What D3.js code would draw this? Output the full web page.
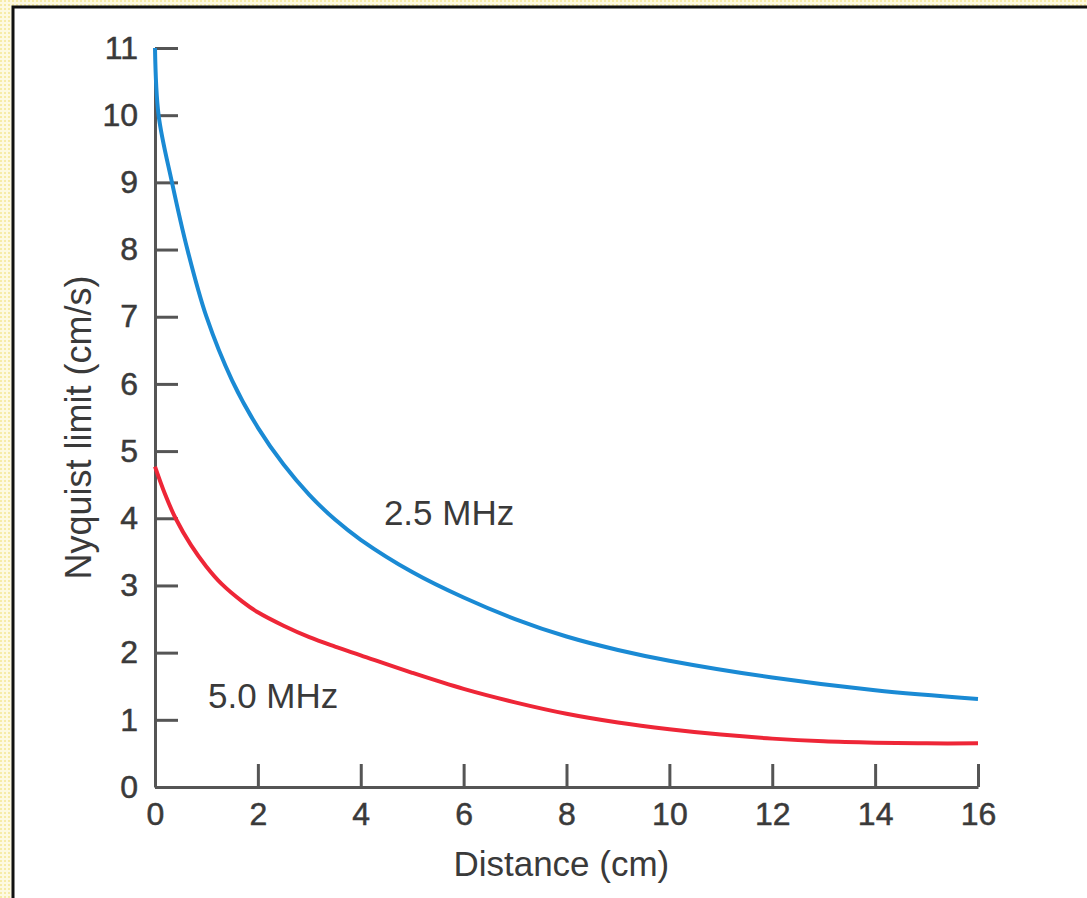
<!DOCTYPE html>
<html>
<head>
<meta charset="utf-8">
<script src="https://cdn.jsdelivr.net/npm/d3@7"></script>
<style>
  html, body { margin: 0; padding: 0; background: #fff; }
  svg { display: block; }
</style>
</head>
<body>
<svg id="root"></svg>
<script>
// values
const blueDistance = [0, 0.07, 0.33, 0.63, 1.0, 1.5, 2.0, 2.5, 3.0, 3.5, 4.0, 5.0, 6.0, 7.0, 8.0, 9.0, 10.0, 12.0, 14.0, 16.0];
const blueNyquist = [11, 10, 9, 8, 7, 6.05, 5.35, 4.8, 4.35, 3.98, 3.68, 3.2, 2.82, 2.5, 2.24, 2.04, 1.88, 1.63, 1.44, 1.31];
const redDistance = [0, 0.2, 0.4, 0.7, 1.0, 1.3, 1.7, 2.0, 2.5, 3.0, 3.5, 4.0, 5.0, 6.0, 7.0, 8.0, 9.0, 10.0, 11.0, 12.0, 13.0, 14.0, 15.0, 16.0];
const redNyquist = [4.77, 4.35, 4.0, 3.6, 3.28, 3.02, 2.76, 2.6, 2.4, 2.23, 2.09, 1.96, 1.7, 1.46, 1.26, 1.09, 0.96, 0.86, 0.78, 0.72, 0.68, 0.66, 0.65, 0.65];
const xTicks = [0, 2, 4, 6, 8, 10, 12, 14, 16];
const yTicks = [0, 1, 2, 3, 4, 5, 6, 7, 8, 9, 10, 11];
const seriesLabels = ['2.5 MHz', '5.0 MHz'];

const width = 1087;
const height = 898;
const font = '"Liberation Sans", Arial, sans-serif';
const ink = '#3a3a3a';

const svg = d3.select('#root').attr('width', width).attr('height', height);

// dotted pale-yellow frame
const pat = svg.append('defs').append('pattern')
  .attr('id', 'dots').attr('width', 4).attr('height', 4)
  .attr('patternUnits', 'userSpaceOnUse');
pat.append('rect').attr('width', 4).attr('height', 4).attr('fill', '#fdf9e2');
pat.append('rect').attr('width', 2).attr('height', 2).attr('fill', '#f6eba8');
svg.append('rect').attr('width', width).attr('height', height).attr('fill', 'url(#dots)');
svg.append('rect')
  .attr('x', 13).attr('y', 7)
  .attr('width', width).attr('height', height)
  .attr('fill', '#fff')
  .attr('stroke', '#111').attr('stroke-width', 3);

const x = d3.scaleLinear().domain([0, 16]).range([155, 978]);
const y = d3.scaleLinear().domain([0, 11]).range([787, 48]);

const styleAxis = g => {
  g.select('.domain').attr('stroke', '#555').attr('stroke-width', 3);
  g.selectAll('.tick line').attr('stroke', '#555').attr('stroke-width', 3);
  g.selectAll('.tick text')
    .attr('font-size', 32)
    .attr('font-family', font)
    .attr('fill', ink)
    .attr('stroke', ink)
    .attr('stroke-width', 0.5);
};

svg.append('g')
  .attr('transform', `translate(0,${y(0)})`)
  .call(d3.axisBottom(x).tickValues(xTicks).tickSize(-23).tickSizeOuter(0).tickPadding(15))
  .call(styleAxis);

svg.append('g')
  .attr('transform', `translate(${x(0)},0)`)
  .call(d3.axisLeft(y).tickValues(yTicks).tickSize(-23).tickSizeOuter(0).tickPadding(17))
  .call(styleAxis);

const line = d3.line()
  .x(d => x(d[0]))
  .y(d => y(d[1]))
  .curve(d3.curveCatmullRom.alpha(0.5));

svg.append('path')
  .datum(d3.zip(blueDistance, blueNyquist))
  .attr('fill', 'none')
  .attr('stroke', '#1a8ad4')
  .attr('stroke-width', 4)
  .attr('d', line);

svg.append('path')
  .datum(d3.zip(redDistance, redNyquist))
  .attr('fill', 'none')
  .attr('stroke', '#ee2637')
  .attr('stroke-width', 4)
  .attr('d', line);

const label = (txt, px, py, size, anchor = 'start') =>
  svg.append('text')
    .attr('x', px).attr('y', py)
    .attr('text-anchor', anchor)
    .attr('font-family', font)
    .attr('font-size', size)
    .attr('fill', ink)
    .text(txt);

label(seriesLabels[0], x(4.45), y(3.9), 35);
label(seriesLabels[1], x(1.03), y(1.18), 35);
label('Distance (cm)', x(7.9), 876, 35, 'middle');

svg.append('text')
  .attr('transform', `translate(91,${y(5.35)}) rotate(-90)`)
  .attr('text-anchor', 'middle')
  .attr('font-family', font)
  .attr('font-size', 36)
  .attr('fill', ink)
  .text('Nyquist limit (cm/s)');
</script>
</body>
</html>
